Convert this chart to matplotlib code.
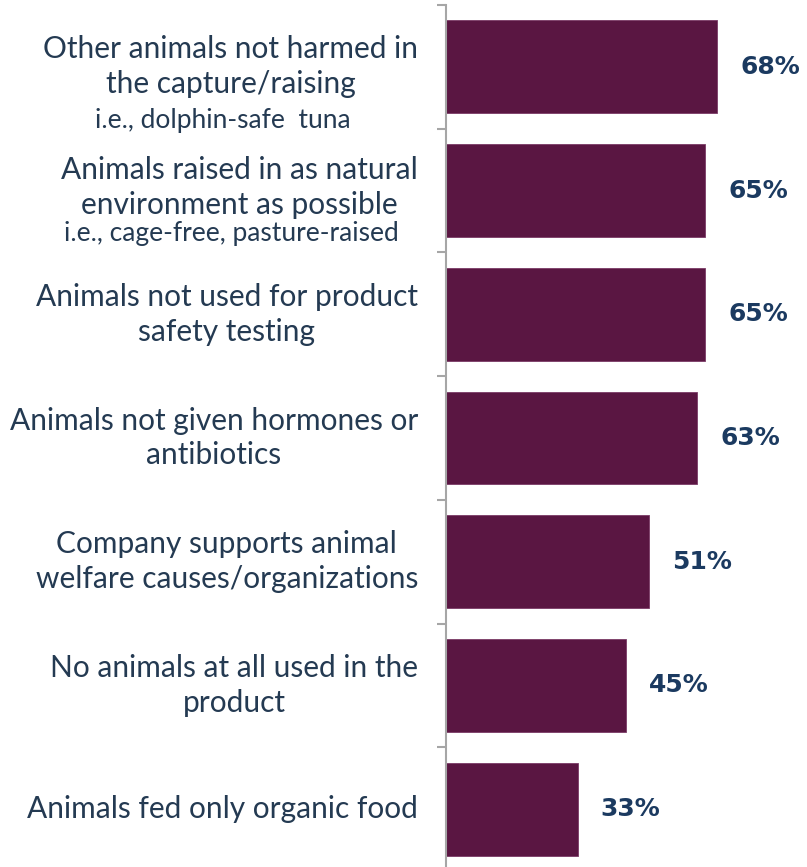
import matplotlib
matplotlib.use("Agg")
import matplotlib.pyplot as plt

categories = [
    "Other animals not harmed in\nthe capture/raising",
    "Animals raised in as natural\nenvironment as possible",
    "Animals not used for product\nsafety testing",
    "Animals not given hormones or\nantibiotics",
    "Company supports animal\nwelfare causes/organizations",
    "No animals at all used in the\nproduct",
    "Animals fed only organic food",
]
sublabels = [
    "i.e., dolphin-safe  tuna",
    "i.e., cage-free, pasture-raised",
    "", "", "", "", "",
]
values = [68, 65, 65, 63, 51, 45, 33]
value_labels = ["68%", "65%", "65%", "63%", "51%", "45%", "33%"]

# style: baseline offset of sub-line below bar centre (px), and main-label lift (px)
sub_offset_px = [61, 50, 0, 0, 0, 0, 0]
main_lift_px = [0, 3, 0, 0, 0, 0, 0]
bar_color = "#5a1642"
label_color = "#243a52"
value_color = "#1b3a60"
axis_color = "#a6a6a6"
FONT = "Lato"

W, H = 807, 867
fig = plt.figure(figsize=(W / 100, H / 100), dpi=100)
ax_left = 446 / W
ax_top = 1 - 5 / H
ax_h = 866 / H
ax = fig.add_axes([ax_left, ax_top - ax_h, 1 - ax_left, ax_h])

n = len(categories)
ypos = list(range(n))
ax.barh(ypos, values, height=0.75, color=bar_color, edgecolor="#7a3a66", linewidth=0.6)
ax.set_ylim(n - 0.5, -0.5)
ax.set_xlim(0, 361 / 3.99)

for s in ["top", "right", "bottom"]:
    ax.spines[s].set_visible(False)
ax.spines["left"].set_color(axis_color)
ax.spines["left"].set_linewidth(1.5)
ax.set_xticks([])
ax.set_yticks([i - 0.5 for i in range(n + 1)])
ax.set_yticklabels([])
ax.tick_params(axis="y", length=6.5, width=1.5, color=axis_color)

for y, v, t in zip(ypos, values, value_labels):
    ax.annotate(t, xy=(v, y), xytext=(16.5, 0), textcoords="offset points",
                ha="left", va="center", fontsize=18, fontweight="bold",
                color=value_color, family=["DejaVu Sans"])

pt = 72 / 100
for y, c, lift in zip(ypos, categories, main_lift_px):
    ax.annotate(c, xy=(0, y), xytext=(-28 * pt, lift * pt), textcoords="offset points",
                ha="right", va="center", multialignment="center",
                fontsize=21.5, color=label_color, family=[FONT, "DejaVu Sans"],
                linespacing=1.3)

fig.canvas.draw()
renderer = fig.canvas.get_renderer()
texts = [t for t in ax.texts if t.get_text() in categories]
inv = ax.transData.inverted()
for t, y, s, off in zip(texts, ypos, sublabels, sub_offset_px):
    if not s:
        continue
    bb = t.get_window_extent(renderer)
    cx = (bb.x0 + bb.x1) / 2
    xd = inv.transform((cx, 0))[0]
    ax.annotate(s, xy=(xd, y), xytext=(-8 * pt, -off * pt), textcoords="offset points",
                ha="center", va="baseline", fontsize=19, color=label_color,
                family=[FONT, "DejaVu Sans"], annotation_clip=False)

fig.savefig("out.png", dpi=100)
